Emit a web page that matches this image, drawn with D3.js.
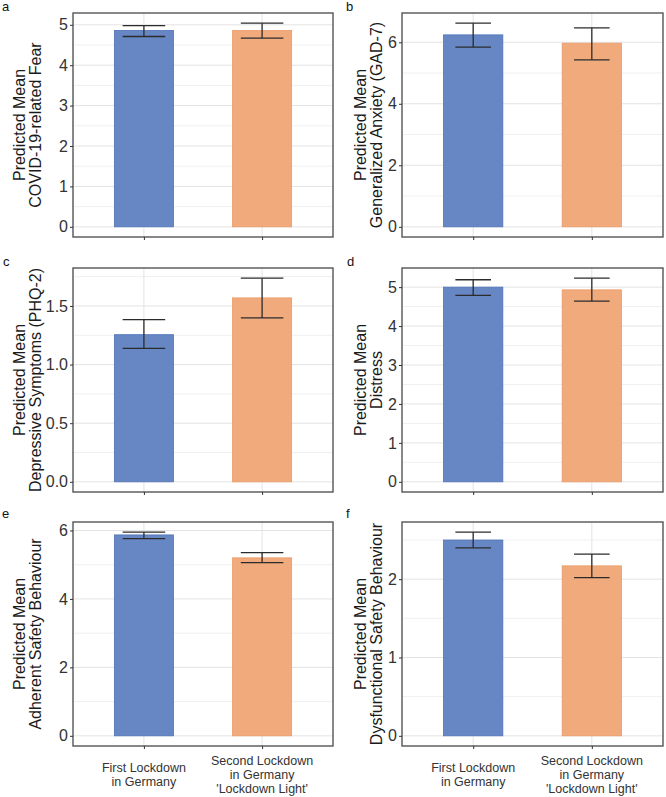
<!DOCTYPE html>
<html>
<head>
<meta charset="utf-8">
<script src="https://cdn.jsdelivr.net/npm/d3@7"></script>
<style>
  html, body { margin: 0; padding: 0; background: #fff; }
  svg { display: block; font-family: "Liberation Sans", Arial, sans-serif; }
</style>
</head>
<body>
<svg id="chart" width="666" height="797"></svg>
<script>
// ---- Data ----
const categories = ["First Lockdown\nin Germany", "Second Lockdown\nin Germany\n'Lockdown Light'"];
const panelLetters = ["a", "b", "c", "d", "e", "f"];
const yTitles = [
  ["Predicted Mean", "COVID-19-related Fear"],
  ["Predicted Mean", "Generalized Anxiety (GAD-7)"],
  ["Predicted Mean", "Depressive Symptoms (PHQ-2)"],
  ["Predicted Mean", "Distress"],
  ["Predicted Mean", "Adherent Safety Behaviour"],
  ["Predicted Mean", "Dysfunctional Safety Behaviour"]
];
const meanA = [4.86, 4.86],  lowA = [4.71, 4.67],  highA = [4.98, 5.04];
const meanB = [6.24, 5.97],  lowB = [5.84, 5.43],  highB = [6.62, 6.47];
const meanC = [1.255, 1.569], lowC = [1.138, 1.398], highC = [1.383, 1.737];
const meanD = [5.00, 4.93],  lowD = [4.79, 4.64],  highD = [5.19, 5.23];
const meanE = [5.87, 5.20],  lowE = [5.76, 5.06],  highE = [5.95, 5.35];
const meanF = [2.50, 2.17],  lowF = [2.40, 2.02],  highF = [2.60, 2.32];
const ticksA = [0, 1, 2, 3, 4, 5];
const ticksB = [0, 2, 4, 6];
const ticksC = [0, 0.5, 1.0, 1.5];
const ticksD = [0, 1, 2, 3, 4, 5];
const ticksE = [0, 2, 4, 6];
const ticksF = [0, 1, 2];
const tickFormats = [d3.format("d"), d3.format("d"), d3.format(".1f"), d3.format("d"), d3.format("d"), d3.format("d")];

const means = [meanA, meanB, meanC, meanD, meanE, meanF];
const lows = [lowA, lowB, lowC, lowD, lowE, lowF];
const highs = [highA, highB, highC, highD, highE, highF];
const tickSets = [ticksA, ticksB, ticksC, ticksD, ticksE, ticksF];

// ---- Layout ----
const colX = [[73, 333], [402, 663]];
const rowY = [[13, 237], [268, 492], [522, 746]];
const letterPos = [[2, 11], [346, 11], [3, 266], [347, 266], [2, 518], [346, 518]];
const titleOffsets = [[-48, -32], [-36, -20]]; // baseline offsets from box left per column
const capFrac = [0.36, 0.30];
const barColors = ["#6687c4", "#f0aa7c"];
const barStrokes = ["#4f72b8", "#eb9a66"];

const svg = d3.select("#chart");

for (let i = 0; i < 6; i++) {
  const col = i % 2, row = Math.floor(i / 2);
  const [x0, x1] = colX[col];
  const [y0, y1] = rowY[row];
  const g = svg.append("g");

  const M = d3.max(highs[i]);
  const y = d3.scaleLinear().domain([-0.05 * M, 1.05 * M]).range([y1, y0]);
  const x = d3.scalePoint().domain(categories).range([x0, x1]).padding(0.6);
  const step = x.step();
  const bw = step * 0.5;

  // grid: minor
  const t = tickSets[i];
  const half = (t[1] - t[0]) / 2;
  const minor = [];
  for (let k = 0; k < t.length; k++) {
    const v = t[k] + half;
    if (y(v) > y0) minor.push(v);
  }
  g.selectAll(".minor").data(minor).join("line")
    .attr("x1", x0).attr("x2", x1)
    .attr("y1", d => y(d)).attr("y2", d => y(d))
    .attr("stroke", "#f0f0f0").attr("stroke-width", 1);
  g.selectAll(".major").data(t).join("line")
    .attr("x1", x0).attr("x2", x1)
    .attr("y1", d => y(d)).attr("y2", d => y(d))
    .attr("stroke", "#e3e3e3").attr("stroke-width", 1);
  g.selectAll(".vgrid").data(categories).join("line")
    .attr("x1", d => x(d)).attr("x2", d => x(d))
    .attr("y1", y0).attr("y2", y1)
    .attr("stroke", "#e3e3e3").attr("stroke-width", 1);

  // bars
  g.selectAll(".bar").data(categories).join("rect")
    .attr("x", d => x(d) - bw / 2)
    .attr("width", bw)
    .attr("y", (d, j) => y(means[i][j]))
    .attr("height", (d, j) => y(0) - y(means[i][j]))
    .attr("fill", (d, j) => barColors[j])
    .attr("stroke", (d, j) => barStrokes[j])
    .attr("stroke-width", 0.8);

  // error bars
  const cw = step * capFrac[col];
  categories.forEach((c, j) => {
    const cx = x(c);
    const eg = g.append("g").attr("stroke", "#2b2b2b").attr("stroke-width", 1.3);
    eg.append("line").attr("x1", cx).attr("x2", cx).attr("y1", y(lows[i][j])).attr("y2", y(highs[i][j]));
    eg.append("line").attr("x1", cx - cw / 2).attr("x2", cx + cw / 2).attr("y1", y(highs[i][j])).attr("y2", y(highs[i][j]));
    eg.append("line").attr("x1", cx - cw / 2).attr("x2", cx + cw / 2).attr("y1", y(lows[i][j])).attr("y2", y(lows[i][j]));
  });

  // frame
  g.append("rect").attr("x", x0).attr("y", y0).attr("width", x1 - x0).attr("height", y1 - y0)
    .attr("fill", "none").attr("stroke", "#555").attr("stroke-width", 1.4);

  // y axis
  const ya = g.append("g").attr("transform", `translate(${x0},0)`)
    .call(d3.axisLeft(y).tickValues(t).tickFormat(tickFormats[i]).tickSize(3).tickPadding(2));
  ya.select(".domain").remove();
  ya.selectAll(".tick line").attr("stroke", "#333");
  ya.selectAll(".tick text").attr("fill", "#333").style("font-size", "16px")
    .style("font-family", "'Liberation Sans', Arial, sans-serif");

  // x axis ticks
  const xa = g.append("g").attr("transform", `translate(0,${y1})`)
    .call(d3.axisBottom(x).tickSize(3).tickFormat(""));
  xa.select(".domain").remove();
  xa.selectAll(".tick line").attr("stroke", "#333");

  // x labels only in bottom row
  if (row === 2) {
    categories.forEach(c => {
      const lines = c.split("\n");
      const lh = 14;
      const mid = 778.5;
      const first = mid - (lines.length - 1) * lh / 2;
      const tx = g.append("text").attr("text-anchor", "middle")
        .attr("fill", "#333").style("font-size", "12.5px");
      lines.forEach((ln, k) => {
        tx.append("tspan").attr("x", x(c)).attr("y", first + k * lh).text(ln);
      });
    });
  }

  // y title
  const cy = (y0 + y1) / 2;
  yTitles[i].forEach((ln, k) => {
    const bx = x0 + titleOffsets[col][k];
    g.append("text")
      .attr("transform", `translate(${bx},${cy}) rotate(-90)`)
      .attr("text-anchor", "middle")
      .attr("fill", "#1a1a1a")
      .style("font-size", "16px")
      .text(ln);
  });

  // panel letter
  svg.append("text").attr("x", letterPos[i][0]).attr("y", letterPos[i][1])
    .attr("fill", "#111").style("font-size", "13px").text(panelLetters[i]);
}
</script>
</body>
</html>
